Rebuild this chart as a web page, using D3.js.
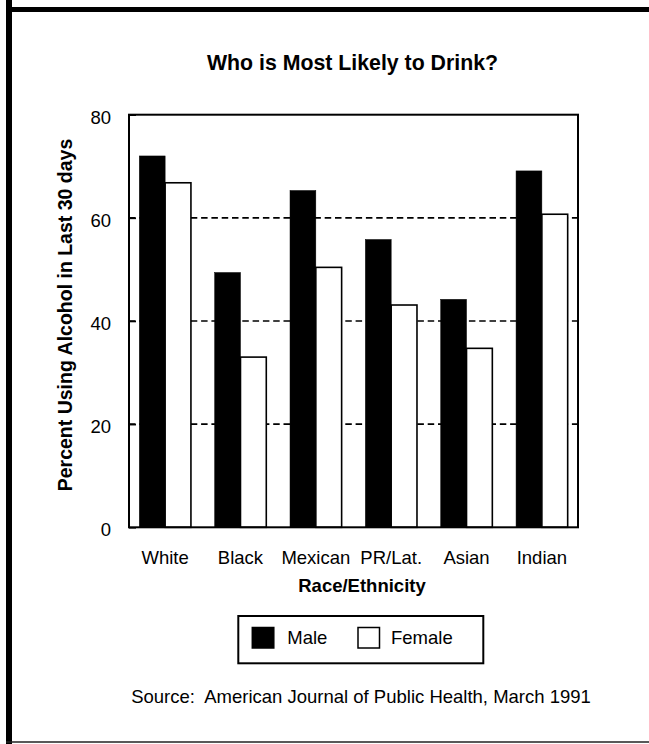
<!DOCTYPE html>
<html>
<head>
<meta charset="utf-8">
<script src="https://cdn.jsdelivr.net/npm/d3@7"></script>
<style>
  html, body { margin: 0; padding: 0; background: #ffffff; }
  svg { display: block; }
  text { font-family: "Liberation Sans", Arial, Helvetica, sans-serif; fill: #000; }
</style>
</head>
<body>
<svg id="chart" width="649" height="744"></svg>
<script>
// Share of respondents reporting alcohol use in the last 30 days
const categories = ["White", "Black", "Mexican", "PR/Lat.", "Asian", "Indian"];
const seriesNames = ["Male", "Female"];
const maleValues = [72.0, 49.4, 65.3, 55.8, 44.2, 69.1];
const femaleValues = [66.8, 33.0, 50.4, 43.1, 34.7, 60.7];
const yTicks = [0, 20, 40, 60, 80];
const gridValues = [20, 40, 60];

const titleText = "Who is Most Likely to Drink?";
const yTitle = "Percent Using Alcohol in Last 30 days";
const xTitle = "Race/Ethnicity";
const sourceText = "Source:  American Journal of Public Health, March 1991";

const rows = categories.map((c, i) => ({ category: c, Male: maleValues[i], Female: femaleValues[i] }));

const svg = d3.select("#chart");
const W = 649, H = 744;
const plot = { left: 129, right: 578, top: 114.7, bottom: 527.3 };

// page frame: heavy rule on the left and top, thin rule at the bottom
svg.append("rect").attr("x", 6).attr("y", 0).attr("width", 6).attr("height", H).attr("fill", "#000");
svg.append("rect").attr("x", 6).attr("y", 7).attr("width", W - 6).attr("height", 5).attr("fill", "#000");
svg.append("line").attr("x1", 6).attr("x2", W).attr("y1", 742).attr("y2", 742)
  .attr("stroke", "#222").attr("stroke-width", 1.5);

// title
svg.append("text")
  .attr("x", 352.5).attr("y", 70)
  .attr("text-anchor", "middle")
  .attr("font-size", 21.3).attr("font-weight", "bold")
  .text(titleText);

// scales
const x0 = d3.scaleBand()
  .domain(categories)
  .range([plot.left, plot.right])
  .paddingInner(0.315)
  .paddingOuter(0.137);
const x1 = d3.scaleBand()
  .domain(seriesNames)
  .range([0, x0.bandwidth()])
  .padding(0);
const y = d3.scaleLinear().domain([0, 80]).range([plot.bottom, plot.top]);
const fill = d3.scaleOrdinal().domain(seriesNames).range(["#000", "#fff"]);

// dashed reference lines
svg.append("g").selectAll("line")
  .data(gridValues)
  .join("line")
  .attr("x1", plot.left).attr("x2", plot.right + 2)
  .attr("y1", d => y(d)).attr("y2", d => y(d))
  .attr("stroke", "#000").attr("stroke-width", 1.6)
  .attr("stroke-dasharray", "6.5,3.8");

// bars
const groups = svg.append("g").selectAll("g")
  .data(rows)
  .join("g")
  .attr("transform", d => `translate(${x0(d.category)},0)`);

groups.selectAll("rect")
  .data(d => seriesNames.map(s => ({ key: s, value: d[s] })))
  .join("rect")
  .attr("x", d => x1(d.key))
  .attr("y", d => y(d.value))
  .attr("width", x1.bandwidth())
  .attr("height", d => y(0) - y(d.value))
  .attr("fill", d => fill(d.key))
  .attr("stroke", "#000")
  .attr("stroke-width", d => d.key === "Male" ? 0.5 : 1.6);

// plot frame
svg.append("rect")
  .attr("x", plot.left).attr("y", plot.top)
  .attr("width", plot.right - plot.left).attr("height", plot.bottom - plot.top)
  .attr("fill", "none").attr("stroke", "#000").attr("stroke-width", 2);

// y axis: inward ticks and numeric labels
const yAxis = svg.append("g")
  .attr("transform", `translate(${plot.left},0)`)
  .call(d3.axisLeft(y).tickValues(yTicks).tickSize(-7).tickPadding(18).tickFormat(d3.format("d")));
yAxis.select(".domain").remove();
yAxis.selectAll(".tick line").attr("stroke", "#000").attr("stroke-width", 1.6);
yAxis.selectAll("text")
  .attr("font-size", 18.5).attr("font-family", "Liberation Sans, Arial, sans-serif")
  .attr("dy", "0.45em");

// x axis category labels
const xAxis = svg.append("g")
  .attr("transform", `translate(0,${plot.bottom})`)
  .call(d3.axisBottom(x0).tickSize(0).tickPadding(23.5));
xAxis.select(".domain").remove();
xAxis.selectAll("text")
  .attr("font-size", 18.5).attr("font-family", "Liberation Sans, Arial, sans-serif");

// axis titles
svg.append("text")
  .attr("x", 362).attr("y", 591.5)
  .attr("text-anchor", "middle")
  .attr("font-size", 18.5).attr("font-weight", "bold")
  .text(xTitle);

svg.append("text")
  .attr("transform", "translate(72,315) rotate(-90)")
  .attr("text-anchor", "middle")
  .attr("font-size", 19.5).attr("font-weight", "bold")
  .text(yTitle);

// legend
const legend = svg.append("g");
legend.append("rect")
  .attr("x", 238.3).attr("y", 616).attr("width", 245).attr("height", 47.3)
  .attr("fill", "#fff").attr("stroke", "#000").attr("stroke-width", 2);
const legendItems = [
  { key: "Male", sx: 252.3, tx: 287.3 },
  { key: "Female", sx: 358, tx: 391 }
];
legendItems.forEach(it => {
  legend.append("rect")
    .attr("x", it.sx).attr("y", 627.5).attr("width", 21.5).attr("height", 20.5)
    .attr("fill", fill(it.key)).attr("stroke", "#000").attr("stroke-width", 1.5);
  legend.append("text")
    .attr("x", it.tx).attr("y", 643.5)
    .attr("font-size", 18.5)
    .text(it.key);
});

// source note
svg.append("text")
  .attr("x", 361).attr("y", 703)
  .attr("text-anchor", "middle")
  .attr("font-size", 18.5)
  .style("white-space", "pre")
  .text(sourceText);
</script>
</body>
</html>
